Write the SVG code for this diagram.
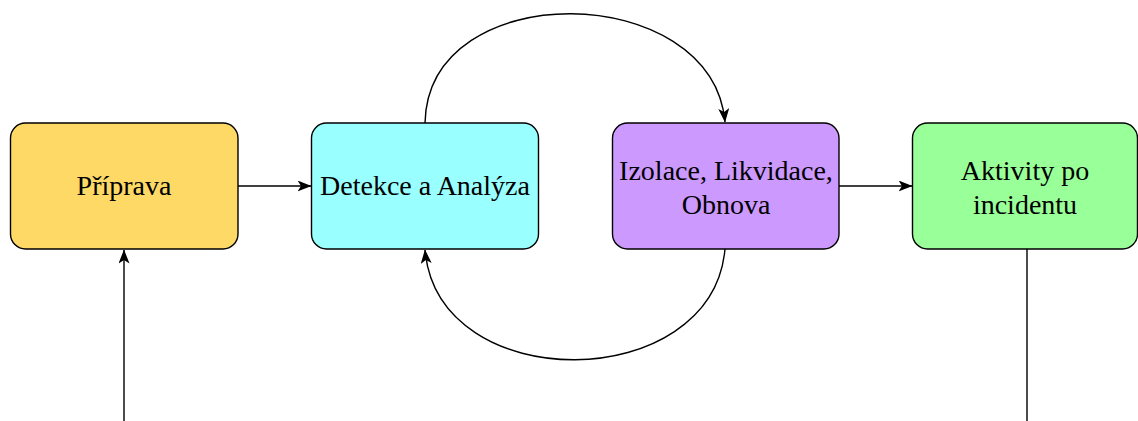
<svg xmlns="http://www.w3.org/2000/svg" width="1138" height="421" viewBox="0 0 1138 421">
  <style>
    .box { stroke: #000; stroke-width: 1.4; }
    .lbl { font-family: "Liberation Serif", "Times New Roman", serif; font-size: 28px; fill: #000; text-anchor: middle; }
    .edge { fill: none; stroke: #000; stroke-width: 1.4; }
  </style>
  <defs>
    <marker id="arrow" viewBox="0 0 14 11" refX="13.5" refY="5.5" markerWidth="14" markerHeight="11" markerUnits="userSpaceOnUse" orient="auto">
      <path d="M0,0 L14,5.5 L0,11 L3.5,5.5 Z" fill="#000"/>
    </marker>
  </defs>

  <!-- connectors -->
  <g id="edges">
    <line class="edge" x1="238" y1="186" x2="311" y2="186" marker-end="url(#arrow)"/>
    <line class="edge" x1="839" y1="186" x2="912" y2="186" marker-end="url(#arrow)"/>
    <path class="edge" d="M425,123 C428,-25 712,-20 725,122" marker-end="url(#arrow)"/>
    <path class="edge" d="M725,249 C712,395 438,398 425,250" marker-end="url(#arrow)"/>
    <line class="edge" x1="124" y1="421" x2="124" y2="250" marker-end="url(#arrow)"/>
    <line class="edge" x1="1027" y1="249" x2="1027" y2="421"/>
  </g>

  <g id="priprava">
    <rect class="box" x="10.5" y="123" width="227.5" height="126" rx="15" fill="#FFD966"/>
    <text class="lbl" x="124" y="195">Příprava</text>
  </g>

  <g id="detekce">
    <rect class="box" x="311.5" y="123" width="227" height="126" rx="15" fill="#99FFFF"/>
    <text class="lbl" x="425" y="195">Detekce a Analýza</text>
  </g>

  <g id="izolace">
    <rect class="box" x="612.5" y="123" width="226.5" height="126" rx="15" fill="#CC99FF"/>
    <text class="lbl" x="726" y="180">Izolace, Likvidace,</text>
    <text class="lbl" x="726" y="214">Obnova</text>
  </g>

  <g id="aktivity">
    <rect class="box" x="912.5" y="123" width="225" height="126" rx="15" fill="#99FF99"/>
    <text class="lbl" x="1025" y="180">Aktivity po</text>
    <text class="lbl" x="1025" y="214">incidentu</text>
  </g>
</svg>
